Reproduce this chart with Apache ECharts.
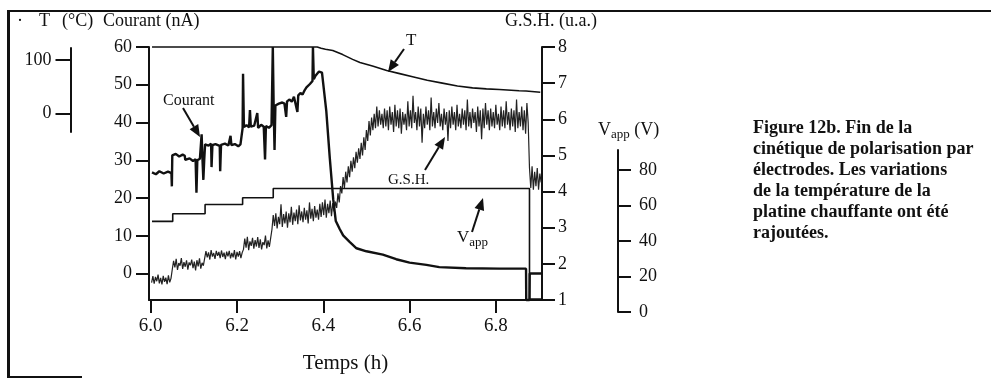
<!DOCTYPE html>
<html><head><meta charset="utf-8">
<script src="https://cdn.jsdelivr.net/npm/echarts@6/dist/echarts.min.js"></script>
<style>html,body{margin:0;padding:0;background:#fff}#c{width:991px;height:379px}</style>
</head><body><div id="c"></div>
<script>
// ---------- data ----------
const timeTicks = [6.0, 6.2, 6.4, 6.6, 6.8];
const courantTicks = [0, 10, 20, 30, 40, 50, 60];
const gshTicks = [1, 2, 3, 4, 5, 6, 7, 8];
const tempTicks = [0, 100];
const vappTicks = [0, 20, 40, 60, 80];

// Courant (nA)
const courantTime = [6.003,6.012,6.020,6.030,6.040,6.048,6.049,6.050,6.058,6.066,6.074,6.079,6.080,6.090,6.098,6.104,6.106,6.108,6.114,6.117,6.118,6.120,6.122,6.124,6.126,6.134,6.140,6.141,6.143,6.150,6.160,6.161,6.163,6.172,6.180,6.185,6.187,6.195,6.203,6.208,6.211,6.213,6.214,6.216,6.222,6.228,6.230,6.232,6.240,6.247,6.249,6.256,6.262,6.265,6.267,6.274,6.280,6.282,6.283,6.285,6.287,6.289,6.292,6.297,6.300,6.305,6.310,6.314,6.316,6.322,6.327,6.332,6.336,6.340,6.342,6.347,6.352,6.357,6.361,6.365,6.369,6.372,6.375,6.376,6.378,6.382,6.386,6.390,6.393,6.397,6.400,6.407,6.415,6.423,6.429,6.438,6.446,6.461,6.477,6.500,6.538,6.569,6.600,6.639,6.669,6.731,6.808,6.870,6.8705,6.878,6.8785,6.905];
const courantVal  = [26.8,26.3,27.1,26.5,27.0,26.6,23.1,31.3,31.7,31.0,31.5,31.2,30.1,30.5,29.8,30.3,21.4,30.0,30.4,29.9,36.9,30.2,24.8,30.0,34.2,33.9,34.4,28.2,34.0,34.3,33.8,27.1,34.1,34.4,33.9,36.5,34.0,34.3,33.7,34.2,34.0,38.5,52.9,38.8,39.3,38.7,43.3,38.9,39.2,42.5,38.6,39.4,38.9,30.2,39.1,38.6,39.3,39.0,60,44.0,32.7,44.5,44.3,45.0,44.6,45.3,45.0,41.5,45.6,46.1,45.5,46.8,46.3,42.8,47.2,47.8,47.4,48.6,49.3,48.8,50.2,49.7,51.0,60,51.5,52.4,51.9,53.5,54.0,53.2,52.9,43.0,30.7,19.7,13.9,11.8,10.1,8.4,6.7,5.9,5.0,3.8,2.9,2.3,1.7,1.4,1.3,1.3,-7,-7,0,0];

// G.S.H. (u.a.) — sampled every 0.003 h from 6.002 h
const gshStart = 6.002, gshStep = 0.003;
const gshVal = [
 1.48,1.66,1.45,1.64,1.52,1.70,1.46,1.61,1.43,1.67,1.50,1.62,1.44,1.68,1.49,1.60,
 1.85,2.08,1.90,2.14,1.83,2.02,1.95,2.16,1.86,2.05,1.92,2.10,1.84,2.04,1.96,2.12,1.88,2.06,1.82,2.10,1.93,2.15,1.87,2.03,1.95,
 2.15,2.35,2.18,2.32,2.12,2.38,2.20,2.30,2.14,2.36,2.22,2.33,2.16,2.37,2.19,2.31,2.13,2.34,2.21,2.36,2.15,2.30,2.18,2.38,2.12,2.33,2.20,2.35,2.16,2.31,
 2.40,2.70,2.45,2.75,2.38,2.62,2.50,2.72,2.42,2.66,2.48,2.74,2.44,2.68,2.40,2.60,2.52,2.78,2.43,2.65,2.47,2.71,
 2.95,3.35,3.05,3.40,2.98,3.30,3.10,3.65,3.02,3.38,3.12,3.45,3.00,3.40,3.15,3.58,3.08,3.42,3.18,3.50,3.10,3.62,3.20,3.45,3.15,3.55,3.22,3.48,3.12,3.70,3.25,3.52,3.18,3.60,3.28,3.50,3.22,3.66,
 3.30,3.70,3.35,3.78,3.28,3.66,3.40,3.75,3.32,3.68,3.45,3.72,
 3.55,3.95,3.70,4.15,3.95,4.40,4.10,4.55,4.25,4.70,4.40,4.85,4.55,4.95,4.65,5.10,4.80,5.20,4.90,5.35,5.00,5.50,5.15,5.70,5.40,5.95,5.55,6.05,5.70,6.15,5.75,6.35,5.80,6.25,5.85,
 6.15,5.75,6.30,5.80,6.25,5.70,6.35,5.85,6.20,5.65,6.40,5.80,6.25,5.75,6.30,5.60,6.20,5.85,6.15,5.70,
 6.50,5.80,6.25,5.75,6.65,5.90,6.20,5.70,6.35,5.80,6.30,5.35,6.15,5.75,6.35,5.85,6.25,5.70,6.60,5.80,
 6.20,5.75,6.30,5.90,6.45,5.80,6.15,5.70,6.30,5.85,6.20,5.40,6.25,5.75,6.35,5.85,6.20,5.70,6.40,5.80,
 6.15,5.75,6.30,5.85,6.25,5.70,6.55,5.80,6.20,5.75,6.30,5.90,6.20,5.65,6.35,5.80,6.25,5.45,6.30,5.75,
 6.45,5.85,6.25,5.70,6.30,5.80,6.20,5.75,6.40,5.85,6.15,5.70,6.35,5.80,6.25,5.75,6.50,5.85,6.20,5.70,
 6.30,5.80,6.25,5.65,6.55,5.75,6.20,5.80,6.35,5.70,6.25,5.60,6.45,5.90,
 4.65,4.10,4.70,4.05,4.55,4.15,4.65,4.05,4.50,4.25
];

// T (°C) — top-clipped at the start
const tempTime = [6.003,6.386,6.395,6.405,6.422,6.445,6.468,6.485,6.514,6.547,6.577,6.607,6.641,6.676,6.711,6.746,6.778,6.808,6.854,6.870,6.903];
const tempVal  = [124.4,124.4,122.0,120.0,117.4,109.4,100.0,93.8,86.9,78.0,71.9,65.7,58.7,53.1,47.5,43.7,41.8,40.5,38.0,37.5,35.3];

// V_app (V)
const vappTime = [6.003,6.051,6.051,6.126,6.126,6.213,6.213,6.284,6.284,6.878,6.878,6.905];
const vappVal  = [46,46,50.5,50.5,56,56,60,60,65.5,65.5,0,0];

// ---------- build ----------
const courantData = courantTime.map((t,i)=>[t,courantVal[i]]);
const gshData = gshVal.map((v,i)=>[gshStart + i*gshStep, v]);
const tempData = tempTime.map((t,i)=>[t,tempVal[i]]);
const vappData = vappTime.map((t,i)=>[t,vappVal[i]]);

const SERIF = '"Liberation Serif", "Times New Roman", serif';
const BLACK = '#111';

function axisBase(extra){
  return Object.assign({
    axisLine:{show:true,onZero:false,lineStyle:{color:BLACK,width:2}},
    axisTick:{show:true,inside:false,length:13,lineStyle:{color:BLACK,width:2}},
    axisLabel:{color:BLACK,fontFamily:SERIF,fontSize:18,margin:17},
    splitLine:{show:false}
  }, extra);
}

function arrow(x1,y1,x2,y2){
  const dx=x2-x1, dy=y2-y1, L=Math.hypot(dx,dy), ux=dx/L, uy=dy/L;
  const hl=12, hw=5, bx=x2-ux*hl, by=y2-uy*hl;
  return [
    {type:'line',shape:{x1:x1,y1:y1,x2:bx,y2:by},style:{stroke:BLACK,lineWidth:2}},
    {type:'polygon',shape:{points:[[x2,y2],[bx-uy*hw,by+ux*hw],[bx+uy*hw,by-ux*hw]]},style:{fill:BLACK}}
  ];
}
function txt(x,y,text,opts){
  return {type:'text',x:x,y:y,style:Object.assign({text:text,fill:BLACK,font:'18px '+SERIF,textVerticalAlign:'middle'},opts||{})};
}

const caption = ['Figure 12b. Fin de la','cinétique de polarisation par','électrodes. Les variations','de la température de la','platine chauffante ont été','rajoutées.'];

const graphics = [
  {type:'rect',shape:{x:7,y:10,width:3,height:367},style:{fill:BLACK}},
  {type:'rect',shape:{x:7,y:10,width:984,height:2},style:{fill:BLACK}},
  {type:'rect',shape:{x:7,y:376,width:75,height:2},style:{fill:BLACK}},
  txt(17,21,'·'),
  txt(39,21,'T'),
  txt(62,21,'(°C)'),
  txt(103,21,'Courant (nA)'),
  txt(505,21,'G.S.H. (u.a.)'),
  {type:'text',x:598,y:130,style:{text:'{v|V}{s|app}{v| (V)}',rich:{v:{fontFamily:SERIF,fontSize:18,fill:BLACK},s:{fontFamily:SERIF,fontSize:13,fill:BLACK,padding:[10,0,0,0]}},textVerticalAlign:'middle'}},
  txt(163,101,'Courant',{font:'16px '+SERIF}),
  txt(406,41,'T',{font:'17px '+SERIF}),
  txt(388,180,'G.S.H.',{font:'15px '+SERIF}),
  {type:'text',x:457,y:238,style:{text:'{v|V}{s|app}',rich:{v:{fontFamily:SERIF,fontSize:17,fill:BLACK},s:{fontFamily:SERIF,fontSize:13,fill:BLACK,padding:[10,0,0,0]}},textVerticalAlign:'middle'}}
].concat(
  arrow(183,108,200,137),
  arrow(404,49,388,72),
  arrow(425,170,445,137),
  arrow(472,232,483,198),
  caption.map((l,i)=>txt(753,128+i*21,l,{font:'bold 18px '+SERIF}))
);

const chart = echarts.init(document.getElementById('c'));
chart.setOption({
  animation:false,
  backgroundColor:'#fff',
  grid:[
    {left:149,top:47,width:393,height:266},
    {left:70.5,top:48,width:1,height:84},
    {left:617,top:150,width:1,height:162}
  ],
  xAxis:[
    axisBase({gridIndex:0,type:'value',min:5.996,max:6.907,
      axisTick:{show:true,inside:false,length:13,customValues:timeTicks,lineStyle:{color:BLACK,width:2}},
      axisLabel:{color:BLACK,fontFamily:SERIF,fontSize:19,margin:17,customValues:timeTicks,formatter:v=>v.toFixed(1)},
      name:'Temps (h)',nameLocation:'middle',nameGap:53,nameTextStyle:{color:BLACK,fontFamily:SERIF,fontSize:21}}),
    {gridIndex:1,type:'value',show:false,min:0,max:1},
    {gridIndex:2,type:'value',show:false,min:0,max:1}
  ],
  yAxis:[
    axisBase({gridIndex:0,type:'value',position:'left',min:-7,max:60,
      axisTick:{show:true,inside:false,length:13,customValues:courantTicks,lineStyle:{color:BLACK,width:2}},
      axisLabel:{color:BLACK,fontFamily:SERIF,fontSize:18,margin:17,customValues:courantTicks}}),
    axisBase({gridIndex:0,type:'value',position:'right',min:1,max:8,interval:1,
      axisTick:{show:true,inside:false,length:13,customValues:gshTicks,lineStyle:{color:BLACK,width:2}},
      axisLabel:{color:BLACK,fontFamily:SERIF,fontSize:18,margin:16,customValues:gshTicks}}),
    {gridIndex:0,type:'value',show:false,min:-374.6,max:124.4},
    {gridIndex:0,type:'value',show:false,min:-0.56,max:149.3},
    axisBase({gridIndex:1,type:'value',position:'left',min:-35.1,max:122.5,
      axisTick:{show:true,inside:false,length:15,customValues:tempTicks,lineStyle:{color:BLACK,width:2}},
      axisLabel:{color:BLACK,fontFamily:SERIF,fontSize:18,margin:19,customValues:tempTicks}}),
    axisBase({gridIndex:2,type:'value',position:'right',min:0,max:91.3,
      axisTick:{show:true,inside:false,length:13,customValues:vappTicks,lineStyle:{color:BLACK,width:2}},
      axisLabel:{color:BLACK,fontFamily:SERIF,fontSize:18,margin:21,customValues:vappTicks}})
  ],
  series:[
    {type:'line',name:'Courant',xAxisIndex:0,yAxisIndex:0,data:courantData,showSymbol:false,clip:false,lineStyle:{color:BLACK,width:2.4},z:3},
    {type:'line',name:'G.S.H.',xAxisIndex:0,yAxisIndex:1,data:gshData,showSymbol:false,lineStyle:{color:'#222',width:1.2},z:2},
    {type:'line',name:'T',xAxisIndex:0,yAxisIndex:2,data:tempData,showSymbol:false,clip:false,lineStyle:{color:BLACK,width:1.6},z:2},
    {type:'line',name:'Vapp',xAxisIndex:0,yAxisIndex:3,data:vappData,showSymbol:false,clip:false,lineStyle:{color:BLACK,width:1.6},z:2}
  ],
  graphic:graphics
});
</script>
</body></html>
